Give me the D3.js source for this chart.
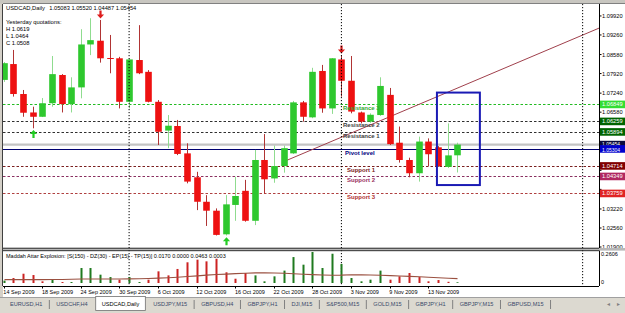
<!DOCTYPE html>
<html><head><meta charset="utf-8">
<script src="https://cdn.jsdelivr.net/npm/d3@7"></script>
<style>
html,body{margin:0;padding:0;background:#d4d0c8;overflow:hidden;}
svg{display:block;font-family:"Liberation Sans",Arial,sans-serif;}
</style></head><body>
<svg id="c" width="625" height="313"></svg>
<script>
// ---------------- DATA ----------------
const symbolTitle = "USDCAD,Daily";
const currentQuote = "1.05083 1.05520 1.04487 1.05454";
const yesterdayTitle = "Yesterday quotations:";
const yesterdayLines = ["H 1.0619", "L 1.0464", "C 1.0508"];
const dates = ["14 Sep","15 Sep","16 Sep","17 Sep","18 Sep","21 Sep","22 Sep","23 Sep","24 Sep","25 Sep",
  "28 Sep","29 Sep","30 Sep","1 Oct","2 Oct","5 Oct","6 Oct","7 Oct","8 Oct","9 Oct",
  "12 Oct","13 Oct","14 Oct","15 Oct","16 Oct","19 Oct","20 Oct","21 Oct","22 Oct","23 Oct",
  "26 Oct","27 Oct","28 Oct","29 Oct","30 Oct","2 Nov","3 Nov","4 Nov","5 Nov","6 Nov",
  "9 Nov","10 Nov","11 Nov","12 Nov","13 Nov","16 Nov","17 Nov","18 Nov"];
const opens  = [1.0770,1.0825,1.0721,1.0657,1.0642,1.0689,1.0787,1.0686,1.0744,1.0893,
  1.0906,1.0846,1.0845,1.0694,1.0839,1.0798,1.0694,1.0594,1.0610,1.0515,
  1.0432,1.0347,1.0316,1.0234,1.0336,1.0385,1.0281,1.0492,1.0428,1.0471,
  1.0515,1.0692,1.0640,1.0801,1.0671,1.0841,1.0767,1.0657,1.0625,1.0648,
  1.0718,1.0552,1.0492,1.0446,1.0556,1.0536,1.0468,1.05083];
const highs  = [1.0832,1.0874,1.0735,1.0677,1.0707,1.0853,1.0790,1.0779,1.0946,1.0984,
  1.0978,1.0926,1.0850,1.0845,1.0960,1.0804,1.0700,1.0648,1.0631,1.0550,
  1.0451,1.0370,1.0324,1.0370,1.0434,1.0423,1.0527,1.0582,1.0542,1.0542,
  1.0697,1.0697,1.0812,1.0822,1.0846,1.0856,1.0853,1.0660,1.0654,1.0779,
  1.0742,1.0608,1.0500,1.0573,1.0567,1.0540,1.0619,1.05520];
const lows   = [1.0763,1.0712,1.0642,1.0602,1.0641,1.0677,1.0657,1.0657,1.0706,1.0856,
  1.0830,1.0793,1.0671,1.0671,1.0790,1.0692,1.0544,1.0533,1.0509,1.0411,
  1.0318,1.0263,1.0230,1.0230,1.0281,1.0278,1.0266,1.0376,1.0413,1.0448,
  1.0513,1.0625,1.0637,1.0656,1.0652,1.0712,1.0654,1.0619,1.0621,1.0645,
  1.0544,1.0483,1.0432,1.0417,1.0471,1.0468,1.0464,1.04487];
const closes = [1.0828,1.0721,1.0656,1.0642,1.0689,1.0790,1.0686,1.0744,1.0893,1.0908,
  1.0845,1.0844,1.0694,1.0841,1.0793,1.0694,1.0590,1.0611,1.0513,1.0417,
  1.0347,1.0316,1.0232,1.0338,1.0367,1.0281,1.0492,1.0425,1.0471,1.0533,
  1.0692,1.0642,1.0798,1.0671,1.0845,1.0767,1.0660,1.0625,1.0649,1.0749,
  1.0547,1.0492,1.0446,1.0556,1.0512,1.0471,1.0508,1.05454];
const histValues = [0.020,0.042,0.078,0.067,0.014,0.028,0.008,0.008,0.126,0.126,
  0.070,0.050,0.028,0.050,0.008,0.028,0.098,0.064,0.118,0.174,
  0.196,0.182,0.204,0.090,0.036,0.084,0.064,0.014,0.056,0.104,
  0.218,0.154,0.2606,0.126,0.246,0.160,0.042,0.014,0.028,0.104,
  0.028,0.056,0.084,0.050,0.014,0.025,0.010,0.006];
const histDir = ["u","d","d","d","d","u","d","u","u","u",
  "u","u","d","u","u","d","d","d","d","d",
  "d","d","d","d","d","d","u","u","u","u",
  "u","u","u","u","u","u","u","u","u","u",
  "d","d","d","d","d","d","d","u"];
const signalValues = [0.028,0.028,0.028,0.028,0.028,0.029,0.030,0.031,0.033,0.034,
  0.034,0.034,0.034,0.035,0.036,0.038,0.041,0.044,0.048,0.054,
  0.060,0.066,0.072,0.075,0.079,0.082,0.085,0.086,0.084,0.082,
  0.078,0.074,0.070,0.067,0.065,0.066,0.069,0.068,0.067,0.065,
  0.062,0.059,0.056,0.052,0.048,0.044,0.040,0.037];
const indicatorTitle = "Maddah Attar Explosion: [S(150) - DZ(30) - EP(15) - TP(15)] 0.0170 0.0000 0.0463 0.0003";
const indicatorTicks = ["0.2606", "0"];
const indicatorMax = 0.2606;
const priceTicks = ["1.09920","1.09260","1.08580","1.07920","1.07240","1.06580","1.05900",
  "1.05220","1.04560","1.03900","1.03220","1.02560","1.01900"];
const timeTickIdx = [0,4,8,12,16,20,24,28,32,36,40,44];
const timeTickLabels = ["14 Sep 2009","18 Sep 2009","24 Sep 2009","30 Sep 2009","6 Oct 2009","12 Oct 2009",
  "16 Oct 2009","22 Oct 2009","28 Oct 2009","3 Nov 2009","9 Nov 2009","13 Nov 2009"];
const levelNames  = ["Resistance 3","Resistance 2","Resistance 1","Pivot level","Support 1","Support 2","Support 3"];
const levelValues = [1.06849,1.06259,1.05894,1.05304,1.04714,1.04349,1.03759];
const bidPrice = 1.05454;
const separatorIdx = [13, 35, 60];
const arrowDownIdx = [10, 35];
const arrowUpIdx = [3, 23];
const trendIdx = [29, 40];
const trendPrice = [1.0486, 1.0642];
const boxIdx = [44.9, 49.35];
const boxPrice = [1.0726, 1.0405];
const tabs = ["EURUSD,H1","USDCHF,H4","USDCAD,Daily","USDJPY,M15","GBPUSD,H4","GBPJPY,H1","DJI,M15",
  "S&P500,M15","GOLD,M15","GBPJPY,H1","GBPJPY,M15","GBPUSD,M15"];
const activeTab = "USDCAD,Daily";

// ---------------- LAYOUT ----------------
const svg = d3.select("#c");
const W = 625, H = 313;
const L = 3, R = 599, TOP = 4, MAINB = 248, INDT = 251, INDB = 286, TABT = 297;
const x = d3.scaleLinear().domain([0, 61]).range([3.65, 3.65 + 61 * 9.65]);
const y = d3.scaleLinear().domain([1.019, 1.0992]).range([247, 15.94]);
const yi = d3.scaleLinear().domain([0, indicatorMax]).range([283, 252]);

// background
svg.append("rect").attr("width", W).attr("height", H).attr("fill", "#d4d0c8");
svg.append("rect").attr("x", 0).attr("y", 0).attr("width", W).attr("height", 3.5).attr("fill", "#c8c6c0");
svg.append("rect").attr("x", L).attr("y", TOP).attr("width", W - L).attr("height", TABT - TOP).attr("fill", "#ffffff");

const defs = svg.append("defs");
defs.append("clipPath").attr("id", "mainclip").append("rect")
  .attr("x", L).attr("y", TOP).attr("width", R - L).attr("height", MAINB - TOP);
const main = svg.append("g").attr("clip-path", "url(#mainclip)");

// period separators (full height)
separatorIdx.forEach(i => {
  svg.append("line").attr("x1", x(i)).attr("x2", x(i)).attr("y1", TOP).attr("y2", INDB)
    .attr("stroke", "#000").attr("stroke-width", 1).attr("stroke-dasharray", "1.2,1.8");
});

// level lines
const levelStyle = [
  {c:"#22bb22", t:"#33aa33", box:"#33dd33", dash:"2.5,2", dx:1.6},
  {c:"#303030", t:"#404040", box:"#006400", dash:"2.5,2", dx:1.6},
  {c:"#303030", t:"#404040", box:"#006400", dash:"2.5,2", dx:1.6},
  {c:"#000070", t:"#000080", box:"#0000cd", dash:null, dx:3.6},
  {c:"#7a1f1f", t:"#7a2020", box:"#800000", dash:"2.5,2", dx:5.6},
  {c:"#8a3060", t:"#9a3060", box:"#b02860", dash:"2.5,2", dx:5.6},
  {c:"#b04040", t:"#b03030", box:"#e02424", dash:"2.5,2", dx:5.6}
];
// bid line
main.append("line").attr("x1", L).attr("x2", R).attr("y1", y(bidPrice)).attr("y2", y(bidPrice))
  .attr("stroke", "#c4c4c4").attr("stroke-width", 2.4);
levelValues.forEach((v, k) => {
  const s = levelStyle[k];
  const ln = main.append("line").attr("x1", L).attr("x2", R).attr("y1", Math.round(y(v)) + 0.5).attr("y2", Math.round(y(v)) + 0.5)
    .attr("stroke", s.c).attr("stroke-width", 1);
  if (s.dash) ln.attr("stroke-dasharray", s.dash);
});

// trend line (ray)
{
  const x1 = x(trendIdx[0]), y1 = y(trendPrice[0]);
  const x2 = x(trendIdx[1]), y2 = y(trendPrice[1]);
  const slope = (y2 - y1) / (x2 - x1);
  main.append("line").attr("x1", x1).attr("y1", y1).attr("x2", R + 5).attr("y2", y1 + slope * (R + 5 - x1))
    .attr("stroke", "#a0404c").attr("stroke-width", 1);
}

// candles
const bw = 6.6;
const candles = main.append("g");
dates.forEach((d, i) => {
  const up = closes[i] >= opens[i];
  const cx = Math.round(x(i)) + 0.5;
  candles.append("line").attr("x1", cx).attr("x2", cx).attr("y1", y(highs[i])).attr("y2", y(lows[i]))
    .attr("stroke", up ? "#8fdc8f" : "#b03434").attr("stroke-width", 1);
  const top = y(Math.max(opens[i], closes[i])), bot = y(Math.min(opens[i], closes[i]));
  candles.append("rect").attr("x", cx - bw / 2).attr("y", top).attr("width", bw).attr("height", Math.max(1, bot - top))
    .attr("fill", up ? "#2ec82e" : "#ee1111");
});

// level labels
levelNames.forEach((n, k) => {
  const s = levelStyle[k];
  main.append("text").attr("x", x(35) + s.dx).attr("y", y(levelValues[k]) + 6)
    .attr("font-size", 6).attr("font-weight", "bold").attr("fill", s.t).text(n);
});

// arrows
function arrow(cx, tipY, dir, color) {
  const s = dir;
  const p = d3.path();
  p.moveTo(cx, tipY);
  p.lineTo(cx + 3.6, tipY - s * 4);
  p.lineTo(cx + 1.1, tipY - s * 4);
  p.lineTo(cx + 1.1, tipY - s * 8);
  p.lineTo(cx - 1.1, tipY - s * 8);
  p.lineTo(cx - 1.1, tipY - s * 4);
  p.lineTo(cx - 3.6, tipY - s * 4);
  p.closePath();
  main.append("path").attr("d", p.toString()).attr("fill", color);
}
arrowDownIdx.forEach(i => arrow(Math.round(x(i)) + 0.5, y(highs[i]) - 1.5, 1, "#dd1c1c"));
arrowUpIdx.forEach(i => arrow(Math.round(x(i)) + 0.5, y(lows[i]) + 1.8, -1, "#22cc22"));

// blue box
main.append("rect").attr("x", x(boxIdx[0])).attr("y", y(boxPrice[0]))
  .attr("width", x(boxIdx[1]) - x(boxIdx[0])).attr("height", y(boxPrice[1]) - y(boxPrice[0]))
  .attr("fill", "none").attr("stroke", "#1a1ab4").attr("stroke-width", 2);

// title texts
svg.append("text").attr("x", 6).attr("y", 10.3).attr("font-size", 5.8).attr("fill", "#000").text(symbolTitle);
svg.append("text").attr("x", 49.3).attr("y", 10.3).attr("font-size", 5.7).attr("fill", "#000").text(currentQuote);
svg.append("text").attr("x", 6).attr("y", 24.3).attr("font-size", 5.8).attr("fill", "#000").text(yesterdayTitle);
yesterdayLines.forEach((t, k) => {
  svg.append("text").attr("x", 6).attr("y", 31 + k * 7.15).attr("font-size", 5.8).attr("fill", "#000").text(t);
});

// price axis
const pa = svg.append("g");
const boxYs = levelValues.concat([bidPrice]).map(v => y(v));
priceTicks.forEach(t => {
  const yy = y(+t);
  pa.append("line").attr("x1", R).attr("x2", R + 2.5).attr("y1", yy).attr("y2", yy).attr("stroke", "#000");
  const hidden = boxYs.some(by => Math.abs(by - yy) < 6.5);
  if (!hidden) pa.append("text").attr("x", 602).attr("y", yy + 2).attr("font-size", 5.7).attr("fill", "#000").text(t);
});
function valueBox(v, color, label, fs, dy) {
  const yy = y(v);
  pa.append("rect").attr("x", R + 1).attr("y", yy - 3.8).attr("width", W - R - 1).attr("height", 7.6).attr("fill", color);
  pa.append("text").attr("x", 602).attr("y", yy + dy).attr("font-size", fs).attr("fill", "#fff").text(label);
}
[0,1,2].forEach(k => valueBox(levelValues[k], levelStyle[k].box, levelValues[k].toFixed(5), 5.7, 2));
valueBox(bidPrice, "#0a0a3c", bidPrice.toFixed(5), 5.0, 1.1);
valueBox(levelValues[3], levelStyle[3].box, levelValues[3].toFixed(5), 5.0, 2.6);
[4,5,6].forEach(k => valueBox(levelValues[k], levelStyle[k].box, levelValues[k].toFixed(5), 5.7, 2));

// pane borders
svg.append("line").attr("x1", L).attr("x2", W).attr("y1", TOP - 0.5).attr("y2", TOP - 0.5).attr("stroke", "#808080");
svg.append("line").attr("x1", L - 0.5).attr("x2", L - 0.5).attr("y1", TOP).attr("y2", INDB).attr("stroke", "#404040");
svg.append("line").attr("x1", R + 0.5).attr("x2", R + 0.5).attr("y1", TOP).attr("y2", INDB).attr("stroke", "#000");
svg.append("rect").attr("x", L).attr("y", MAINB).attr("width", W - L).attr("height", 2.6).attr("fill", "#b8b8b8");
svg.append("line").attr("x1", L).attr("x2", R).attr("y1", MAINB + 0.2).attr("y2", MAINB + 0.2).attr("stroke", "#000").attr("stroke-width", 0.8);
svg.append("line").attr("x1", L).attr("x2", R).attr("y1", INDT - 0.3).attr("y2", INDT - 0.3).attr("stroke", "#000").attr("stroke-width", 0.8);
svg.append("line").attr("x1", L).attr("x2", R).attr("y1", INDB + 0.5).attr("y2", INDB + 0.5).attr("stroke", "#000");

// indicator pane
const ind = svg.append("g");
histValues.forEach((v, i) => {
  const cx = Math.round(x(i)) + 0.5;
  ind.append("rect").attr("x", cx - 1).attr("y", yi(v)).attr("width", 2).attr("height", yi(0) - yi(v))
    .attr("fill", histDir[i] === "u" ? "#1f7a1f" : "#cc2222");
});
ind.append("path").datum(signalValues)
  .attr("d", d3.line().x((d, i) => Math.round(x(i)) + 0.5).y(d => yi(d)))
  .attr("fill", "none").attr("stroke", "#9a5040").attr("stroke-width", 1.1);
ind.append("text").attr("x", 6).attr("y", 257.6).attr("font-size", 5.5).attr("fill", "#000").text(indicatorTitle);
ind.append("text").attr("x", 601).attr("y", yi(indicatorMax) + 4).attr("font-size", 5.5).attr("fill", "#000").text(indicatorTicks[0]);
ind.append("text").attr("x", 601).attr("y", yi(0) + 1).attr("font-size", 5.5).attr("fill", "#000").text(indicatorTicks[1]);

// time axis
timeTickIdx.forEach((i, k) => {
  svg.append("line").attr("x1", Math.round(x(i)) + 0.5).attr("x2", Math.round(x(i)) + 0.5).attr("y1", INDB).attr("y2", INDB + 2.5).attr("stroke", "#000");
  svg.append("text").attr("x", x(i) - 0.3).attr("y", 293.8).attr("font-size", 5.5).attr("fill", "#000").text(timeTickLabels[k]);
});

// tabs
svg.append("rect").attr("x", 0).attr("y", TABT).attr("width", W).attr("height", H - TABT).attr("fill", "#dcd9d0");
svg.append("line").attr("x1", 0).attr("x2", W).attr("y1", TABT + 0.5).attr("y2", TABT + 0.5).attr("stroke", "#a0a0a0");
let tx = 10;
tabs.forEach((t, k) => {
  const isA = t === activeTab;
  const g = svg.append("g");
  const txt = g.append("text").attr("x", tx).attr("y", 305.8).attr("font-size", 5.6)
    .attr("fill", isA ? "#000" : "#3a4a6a").text(t);
  const w = txt.node().getComputedTextLength();
  if (isA) {
    g.insert("rect", "text").attr("x", tx - 6).attr("y", TABT - 0.5).attr("width", w + 12).attr("height", 14)
      .attr("fill", "#fff").attr("stroke", "#707070").attr("stroke-width", 0.8);
  }
  const sepX = tx + w + 7;
  if (!isA && tabs[k + 1] !== activeTab) {
    g.append("line").attr("x1", sepX).attr("x2", sepX).attr("y1", 300).attr("y2", 309).attr("stroke", "#808080");
  }
  tx = sepX + 7;
});
svg.append("text").attr("x", 606).attr("y", 306).attr("font-size", 5).attr("fill", "#808080").text("◄");
svg.append("text").attr("x", 616).attr("y", 306).attr("font-size", 5).attr("fill", "#808080").text("►");
</script>
</body></html>
